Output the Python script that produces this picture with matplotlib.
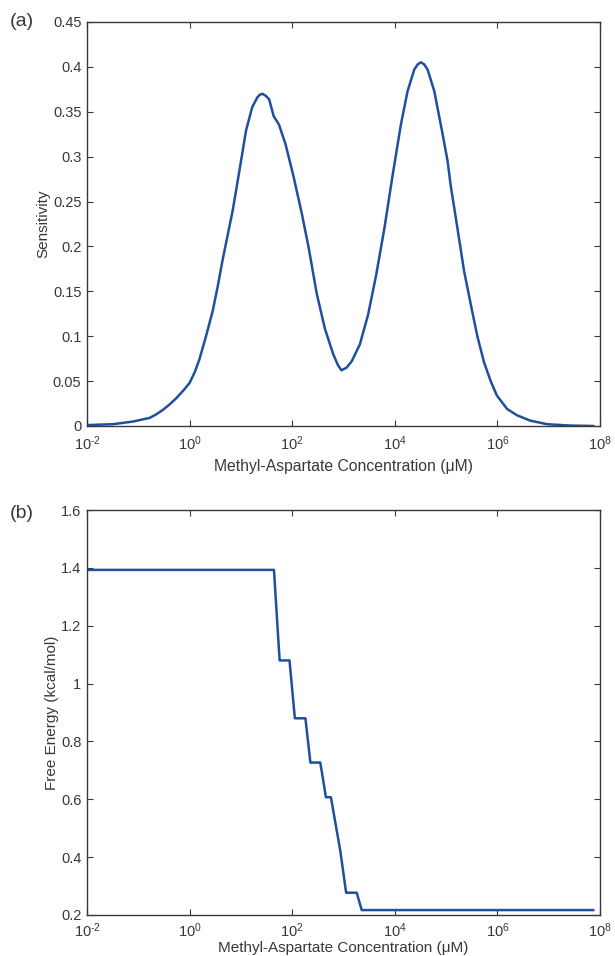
import numpy as np
import matplotlib
matplotlib.use('Agg')
import matplotlib.pyplot as plt
from matplotlib.ticker import FixedLocator, FuncFormatter, NullLocator

plt.rcParams['font.family'] = ['Liberation Sans', 'DejaVu Sans']
plt.rcParams['mathtext.fontset'] = 'custom'
plt.rcParams['mathtext.rm'] = 'Liberation Sans'
plt.rcParams['mathtext.it'] = 'Liberation Sans:italic'

# (a) sensitivity (log10 of concentration in uM)
sens_logx = [-2.0, -1.75, -1.49, -1.30, -1.10, -0.94, -0.78, -0.65, -0.52, -0.39, -0.26, -0.13,
             0.0, 0.10, 0.19, 0.32, 0.45, 0.55, 0.64, 0.74, 0.84, 0.97, 1.10, 1.22,
             1.32, 1.37, 1.42, 1.48, 1.55, 1.64, 1.74, 1.87, 2.03, 2.19, 2.32, 2.48,
             2.64, 2.80, 2.89, 2.96, 3.06, 3.16, 3.32, 3.48, 3.64, 3.80, 3.96, 4.12,
             4.25, 4.38, 4.45, 4.51, 4.57, 4.64, 4.77, 4.93, 5.03, 5.09, 5.22, 5.35,
             5.48, 5.61, 5.74, 5.87, 5.99, 6.19, 6.38, 6.64, 6.97, 7.41, 7.87]
sens_vals = [0.001, 0.0015, 0.002, 0.0035, 0.005, 0.007, 0.009, 0.013, 0.018, 0.024, 0.031, 0.039,
             0.048, 0.060, 0.074, 0.100, 0.128, 0.156, 0.184, 0.212, 0.240, 0.284, 0.329, 0.355,
             0.366, 0.369, 0.370, 0.368, 0.364, 0.345, 0.336, 0.314, 0.277, 0.236, 0.199, 0.147,
             0.108, 0.080, 0.068, 0.062, 0.065, 0.072, 0.091, 0.124, 0.169, 0.221, 0.280, 0.336,
             0.373, 0.397, 0.403, 0.405, 0.403, 0.397, 0.373, 0.326, 0.295, 0.268, 0.221, 0.173,
             0.136, 0.100, 0.071, 0.050, 0.034, 0.019, 0.012, 0.006, 0.002, 0.0005, 0.0]

# (b) free energy staircase vertices
fe_logx = [-2.0, 1.645, 1.755, 1.948, 2.052, 2.258, 2.355, 2.548, 2.658, 2.755,
           2.935, 3.052, 3.258, 3.355, 7.87]
fe_vals = [1.393, 1.393, 1.08, 1.08, 0.88, 0.88, 0.727, 0.727, 0.607, 0.607,
           0.425, 0.277, 0.277, 0.217, 0.217]

xtick_exp = [-2, 0, 2, 4, 6, 8]
sens_ticks = [0, 0.05, 0.1, 0.15, 0.2, 0.25, 0.3, 0.35, 0.4, 0.45]
fe_ticks = [0.2, 0.4, 0.6, 0.8, 1.0, 1.2, 1.4, 1.6]

line_color = '#1f4f9e'
ink = '#383838'
xlabel = 'Methyl-Aspartate Concentration (\u03bcM)'


def fmt_num(v, pos=None):
    return ('%.2f' % v).rstrip('0').rstrip('.')


def fmt_pow(v, pos=None):
    e = int(round(np.log10(v)))
    s = str(e).replace('-', '\u2010')
    return r'$10^{%s}$' % s


def style(ax, yticks, xtpad, xpad, xfs):
    ax.set_xscale('log')
    ax.set_xlim(1e-2, 1e8)
    ax.xaxis.set_major_locator(FixedLocator([10.0 ** e for e in xtick_exp]))
    ax.xaxis.set_minor_locator(NullLocator())
    ax.xaxis.set_major_formatter(FuncFormatter(fmt_pow))
    ax.set_ylim(yticks[0], yticks[-1])
    ax.set_yticks(yticks)
    ax.yaxis.set_major_formatter(FuncFormatter(fmt_num))
    ax.tick_params(direction='in', length=4, width=0.8, top=True, right=True,
                   colors=ink, labelsize=10.5, pad=4)
    ax.tick_params(axis='x', pad=xtpad)
    for sp in ax.spines.values():
        sp.set_color(ink)
        sp.set_linewidth(1.0)
    ax.set_xlabel(xlabel, fontsize=xfs, color=ink, labelpad=xpad)


fig = plt.figure(figsize=(6.15, 9.56), dpi=100)
ax1 = fig.add_axes([0.1415, 0.5544, 0.834, 0.4226])
ax2 = fig.add_axes([0.1415, 0.0429, 0.834, 0.4236])

ax1.plot(10.0 ** np.array(sens_logx), sens_vals, color=line_color, lw=1.8)
style(ax1, sens_ticks, 6, 4.5, 11.3)
ax1.set_ylabel('Sensitivity', fontsize=11, color=ink, labelpad=1.5)

ax2.plot(10.0 ** np.array(fe_logx), fe_vals, color=line_color, lw=1.8)
style(ax2, fe_ticks, 4.5, 0.5, 11.0)
ax2.set_ylabel('Free Energy (kcal/mol)', fontsize=11, color=ink, labelpad=1.5)

fig.text(0.016, 0.977, '(a)', fontsize=14, color=ink, va='center')
fig.text(0.016, 0.463, '(b)', fontsize=14, color=ink, va='center')

fig.savefig('out.png', dpi=100)
